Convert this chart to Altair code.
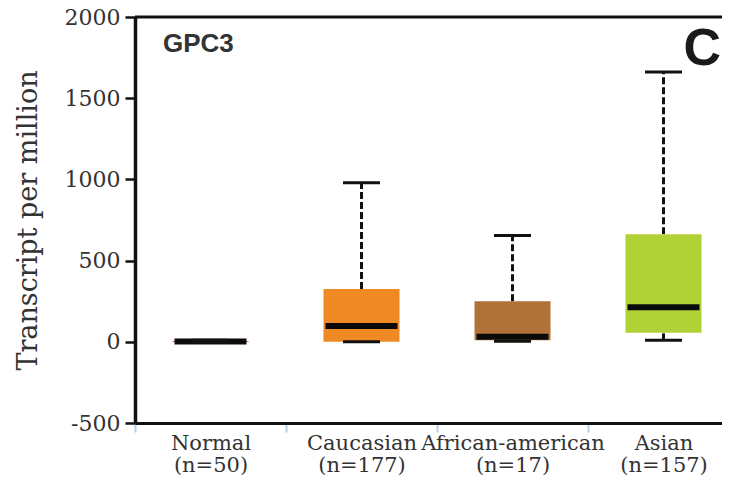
import json
import altair as alt
import pandas as pd

# ---- data ----
categories = ["Normal", "Caucasian", "African-american", "Asian"]
n_labels = ["(n=50)", "(n=177)", "(n=17)", "(n=157)"]
whisker_low = [0, 0, 3, 9]
q1 = [0, 0, 10, 56]
median = [2, 97, 31, 212]
q3 = [5, 325, 249, 662]
whisker_high = [10, 979, 654, 1662]
box_colors = ["#D7262B", "#EF8923", "#B07236", "#B0D236"]
y_ticks = [-500, 0, 500, 1000, 1500, 2000]
gene = "GPC3"
panel = "C"

df = pd.DataFrame({
    "cat": categories,
    "low": whisker_low,
    "q1": q1,
    "med": median,
    "q3": q3,
    "high": whisker_high,
})

label_map = {c: [c, n] for c, n in zip(categories, n_labels)}
label_expr = json.dumps(label_map) + "[datum.value]"

SERIF = "DejaVu Serif"

x = alt.X(
    "cat:N",
    sort=categories,
    scale=alt.Scale(domain=categories, range=[0, 604], paddingInner=0, paddingOuter=0),
    axis=alt.Axis(
        title=None,
        labelExpr=label_expr,
        labelAngle=0,
        labelFont=SERIF,
        labelFontSize=21,
        labelColor="#333333",
        labelLineHeight=22,
        labelPadding=0,
        labelOverlap=False,
        labelFlush=False,
        labelLimit=0,
        tickBand="extent",
        tickColor="#b9cde5",
        tickWidth=2,
        tickSize=9,
        domainColor="#111111",
        domainWidth=3,
        grid=False,
    ),
)

yscale = alt.Scale(domain=[-500, 2000], nice=False, zero=False)

y_axis = alt.Axis(
    title="Transcript per million",
    values=y_ticks,
    labelExpr="'' + datum.value",
    labelFont=SERIF,
    labelFontSize=22,
    labelColor="#333333",
    labelPadding=5,
    tickSize=10,
    tickWidth=2.5,
    tickColor="#111111",
    domainColor="#111111",
    domainWidth=3.5,
    titleFont=SERIF,
    titleFontSize=27,
    titleFontWeight="normal",
    titleColor="#333333",
    titlePadding=22,
    grid=False,
)

base = alt.Chart(df)

upper_whisker = base.mark_rule(color="#111111", strokeWidth=3, strokeDash=[7, 3]).encode(
    x=x, y=alt.Y("q3:Q", scale=yscale, axis=y_axis), y2="high:Q"
)
lower_whisker = base.mark_rule(color="#111111", strokeWidth=3, strokeDash=[7, 3]).encode(
    x=x, y=alt.Y("low:Q", scale=yscale), y2="q1:Q"
)
boxes = base.mark_bar(size=76).encode(
    x=x,
    y=alt.Y("q1:Q", scale=yscale),
    y2="q3:Q",
    color=alt.Color("cat:N", scale=alt.Scale(domain=categories, range=box_colors), legend=None),
)
medians = base.mark_tick(size=72, thickness=6, color="#0a0a0a", opacity=1).encode(
    x=x, y=alt.Y("med:Q", scale=yscale)
)
cap_hi = base.mark_tick(size=37, thickness=3, color="#111111", opacity=1).encode(
    x=x, y=alt.Y("high:Q", scale=yscale)
)
cap_lo = base.mark_tick(size=37, thickness=3, color="#111111", opacity=1).encode(
    x=x, y=alt.Y("low:Q", scale=yscale)
)
top_line = alt.Chart(pd.DataFrame({"v": [2000]})).mark_rule(color="#111111", strokeWidth=3).encode(
    y=alt.Y("v:Q", scale=yscale)
)
gene_text = alt.Chart(pd.DataFrame({"t": [gene]})).mark_text(
    font="Liberation Sans", fontWeight="bold", fontSize=26, color="#333333",
    align="left", baseline="alphabetic"
).encode(text="t:N", x=alt.value(28), y=alt.value(35))
panel_text = alt.Chart(pd.DataFrame({"t": [panel]})).mark_text(
    font="Liberation Sans", fontWeight="bold", fontSize=52, color="#1a1a1a",
    align="right", baseline="alphabetic"
).encode(text="t:N", x=alt.value(586), y=alt.value(48))

chart = alt.layer(
    upper_whisker, lower_whisker, boxes, medians, cap_lo, cap_hi, top_line, gene_text, panel_text
).properties(
    width=587,
    height=406,
    autosize=alt.AutoSizeParams(type="none"),
    padding={"left": 127, "top": 9, "right": 0, "bottom": 56},
).configure_view(stroke=None).configure(background="white")

chart.save("out.html", embed_options={"renderer": "svg", "actions": False})
